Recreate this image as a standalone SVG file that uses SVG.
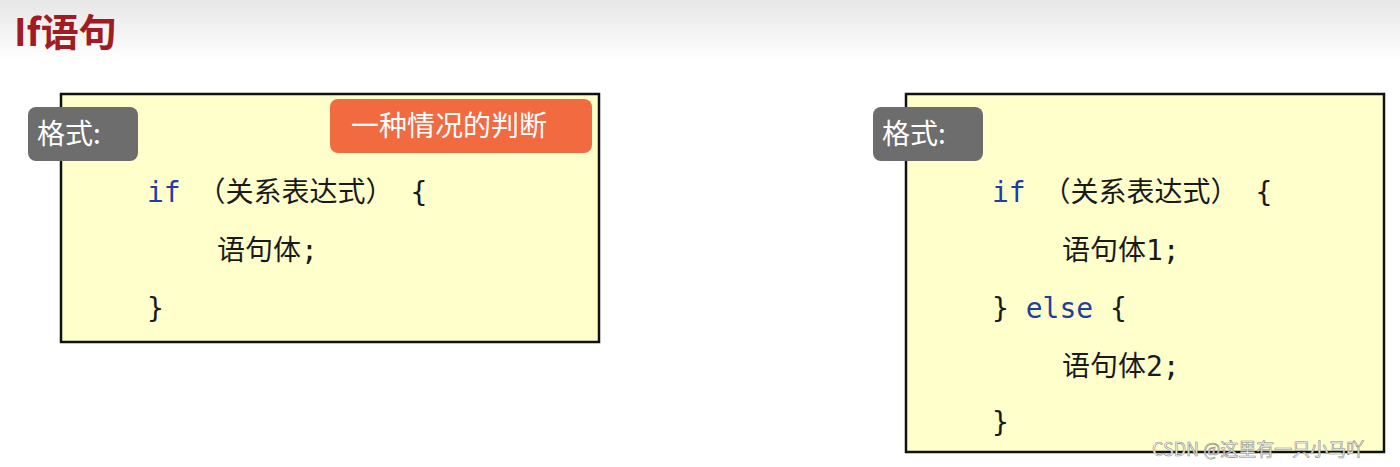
<svg xmlns="http://www.w3.org/2000/svg" width="1400" height="467" viewBox="0 0 1400 467">
<defs>
<linearGradient id="bg" x1="0" y1="0" x2="0" y2="1"><stop offset="0" stop-color="#e6e6e6"/><stop offset="1" stop-color="#ffffff"/></linearGradient>
<style>
.box{fill:#ffffcc;stroke:#111;stroke-width:2.5}
.tag{fill:#6d6d6d}
.t{font-family:"DejaVu Sans Mono","Noto Sans CJK SC",monospace;font-size:28px;fill:#1a1a1a}
.kw{fill:#1f3f9f}
.lab{font-family:"Noto Sans CJK SC",sans-serif;font-size:28px;fill:#fff}
</style>
</defs>
<rect width="1400" height="467" fill="#fff"/>
<rect width="1400" height="60" fill="url(#bg)"/>
<text x="14" y="46" font-family="Noto Sans CJK SC,sans-serif" font-weight="bold" font-size="38" fill="#a01c22">If语句</text>
<g id="left">
<rect class="box" x="61" y="94" width="538" height="248"/>
<rect class="tag" x="28" y="107" width="110" height="54" rx="8"/>
<text class="lab" x="37" y="144">格式:</text>
<rect x="330" y="99" width="262" height="54" rx="8" fill="#f26a40"/>
<text class="lab" x="351" y="136">一种情况的判断</text>
<text class="t" x="147" y="202"><tspan class="kw">if</tspan> （关系表达式） {</text>
<text class="t" x="217" y="260">语句体;</text>
<text class="t" x="147" y="318">}</text>
</g>
<g id="right">
<rect class="box" x="906" y="94" width="478" height="358"/>
<rect class="tag" x="873" y="107" width="110" height="54" rx="8"/>
<text class="lab" x="882" y="144">格式:</text>
<text class="t" x="992" y="202"><tspan class="kw">if</tspan> （关系表达式） {</text>
<text class="t" x="1062" y="260">语句体1;</text>
<text class="t" x="992" y="318">} <tspan class="kw">else</tspan> {</text>
<text class="t" x="1062" y="376">语句体2;</text>
<text class="t" x="992" y="432">}</text>
</g>
<g id="connectors"/>
<text x="1152" y="456" font-family="Noto Sans CJK SC,sans-serif" font-size="18" fill="#fff" stroke="#888" stroke-width="0.6">CSDN @这里有一只小马吖</text>
</svg>
